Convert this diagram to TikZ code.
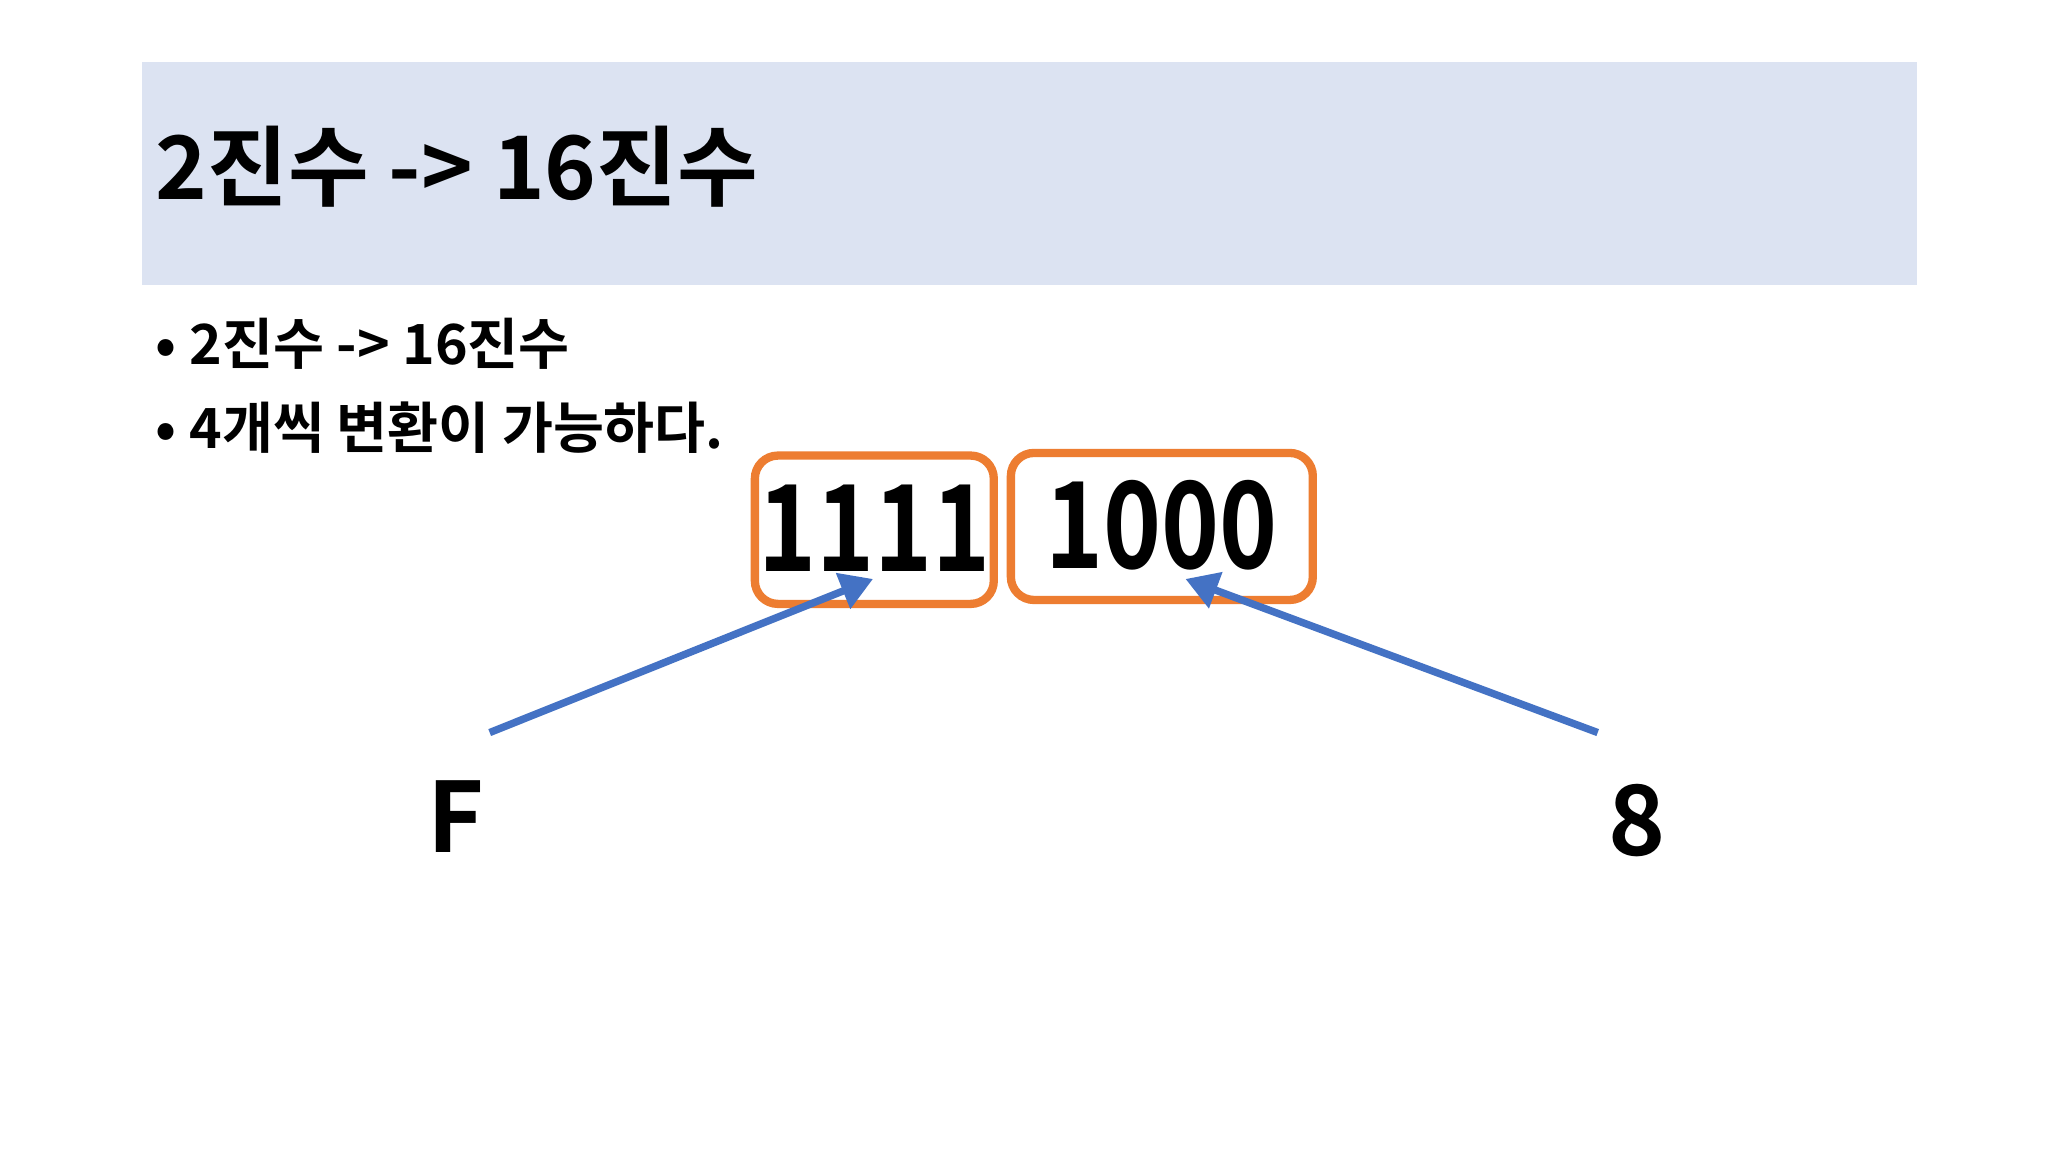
\documentclass[tikz,border=0pt]{standalone}
\usepackage{fontspec}
\setmainfont{Noto Sans CJK KR}[BoldFont={* Bold}]
\usetikzlibrary{arrows.meta}
\definecolor{titlebg}{RGB}{220,227,242}
\definecolor{orng}{RGB}{237,125,49}
\definecolor{blu}{RGB}{68,114,196}
\tikzset{
  grp/.style={draw=orng,line width=1.8pt,rounded corners=5pt},
  big/.style={font=\fontsize{26}{30}\selectfont\bfseries,inner sep=0pt,xscale=0.82},
  lbl/.style={font=\fontsize{21}{26}\selectfont\bfseries,inner sep=0pt},
  bul/.style={font=\fontsize{12}{15}\selectfont\bfseries,anchor=west,inner sep=0pt},
  conn/.style={draw=blu,line width=1.6pt,-{Triangle[length=7pt,width=8pt]}}
}
\begin{document}
\begin{tikzpicture}[x=0.01cm,y=-0.01cm]
\useasboundingbox (0,0) rectangle (1560,878);
\fill[white] (0,0) rectangle (1560,878);
\fill[titlebg] (108,47) rectangle (1460,217);
\node[font=\fontsize{19}{24}\selectfont\bfseries,anchor=west,inner sep=0pt] (title) at (118,127) {2진수 -> 16진수};
\node[bul] (b1) at (118,262) {• 2진수 -> 16진수};
\node[bul] (b2) at (118,326) {• 4개씩 변환이 가능하다.};
\node[big] (n1) at (666,402) {1111};
\node[big] (n2) at (885,400) {1000};
\draw[grp] (575,347) rectangle (757,460);
\draw[grp] (770,345) rectangle (1000,457);
\coordinate (h1) at (665,441);
\coordinate (h2) at (903,441);
\node[lbl] (f) at (347,622) {F};
\node[lbl] (e) at (1247,625) {8};
\coordinate (s1) at (373,558);
\coordinate (s2) at (1217,558);
\draw[conn] (s1) -- (h1);
\draw[conn] (s2) -- (h2);
\end{tikzpicture}
\end{document}
